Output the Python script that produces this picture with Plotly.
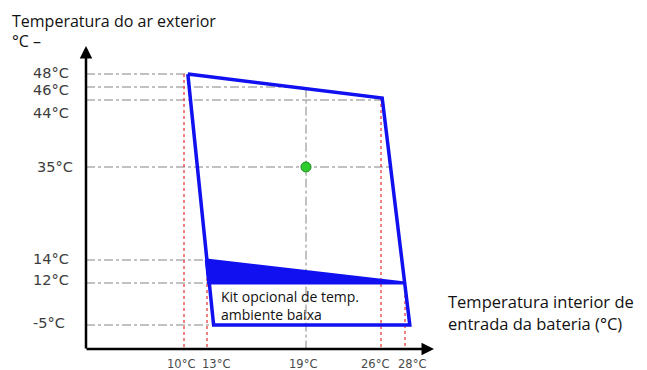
import numpy as np
import plotly.graph_objects as go

# ---- data (temperatures, °C) ----
x_ticks = [10, 13, 19, 26, 28]
x_tick_labels = ["10°C", "13°C", "19°C", "26°C", "28°C"]
y_ticks = [48, 46, 44, 35, 14, 12, -5]
y_tick_labels = ["48°C", "46°C", "44°C", "35°C", "14°C", "12°C", "-5°C"]

# operating envelope outline (indoor, outdoor)
env_x = [10.5, 26.1, 28.4, 13.4, 10.5]
env_y = [48, 44.3, -5, -5, 48]
# low-ambient kit filled band
kit_x = [12.9, 28.0, 13.1, 12.9]
kit_y = [14, 12, 12, 14]
# nominal point
nom_x = [19]
nom_y = [35]

# ---- schematic (non-linear) axis scale: tick -> axis position ----
X_POS = [184, 207, 306, 381, 405]
Y_POS = [74, 87, 100, 167, 260, 283, 325]


def sx(v):
    v = np.atleast_1d(np.asarray(v, float))
    out = np.interp(v, x_ticks, X_POS)
    lo, hi = v < x_ticks[0], v > x_ticks[-1]
    s_lo = (X_POS[1] - X_POS[0]) / (x_ticks[1] - x_ticks[0])
    s_hi = (X_POS[-1] - X_POS[-2]) / (x_ticks[-1] - x_ticks[-2])
    out[lo] = X_POS[0] + (v[lo] - x_ticks[0]) * s_lo
    out[hi] = X_POS[-1] + (v[hi] - x_ticks[-1]) * s_hi
    return out


yt_sorted = y_ticks[::-1]
yp_sorted = Y_POS[::-1]


def sy(v):
    v = np.atleast_1d(np.asarray(v, float))
    return np.interp(v, yt_sorted, yp_sorted)


AX_X = 86   # y-axis line position
AX_Y = 349  # x-axis line position

ex, ey = sx(env_x), sy(env_y)


def edge_x_at(py, i0, i1):
    return ex[i0] + (ex[i1] - ex[i0]) * (py - ey[i0]) / (ey[i1] - ey[i0])


def edge_y_at(px, i0, i1):
    return ey[i0] + (ey[i1] - ey[i0]) * (px - ex[i0]) / (ex[i1] - ex[i0])


fig = go.Figure()
GRAY = "rgba(110,110,110,0.85)"
RED = "rgba(235,40,40,0.9)"

h_end = {
    48: ex[0],
    46: edge_x_at(sy(46)[0], 0, 1),
    44: ex[1],
    35: edge_x_at(sy(35)[0], 1, 2),
    14: edge_x_at(sy(14)[0], 3, 0),
    12: edge_x_at(sy(12)[0], 3, 0),
    -5: ex[3],
}
for t in y_ticks:
    py = sy(t)[0]
    fig.add_trace(go.Scatter(x=[AX_X, h_end[t]], y=[py, py], mode="lines",
                             line=dict(color=GRAY, width=1, dash="dashdot"),
                             hoverinfo="skip", showlegend=False))

v_start = {
    10: sy(48)[0],
    13: sy(14)[0],
    19: edge_y_at(sx(19)[0], 0, 1),
    26: ey[1],
    28: sy(12)[0],
}
for t in x_ticks:
    px = sx(t)[0]
    if t == 19:
        ln = dict(color=GRAY, width=1, dash="dashdot")
    else:
        ln = dict(color=RED, width=1.3, dash="dot")
    fig.add_trace(go.Scatter(x=[px, px], y=[v_start[t], AX_Y], mode="lines",
                             line=ln, hoverinfo="skip", showlegend=False))

BLUE = "#1010f0"
fig.add_trace(go.Scatter(x=sx(kit_x), y=sy(kit_y), mode="lines", fill="toself",
                         fillcolor=BLUE, line=dict(color=BLUE, width=3),
                         hoverinfo="skip", showlegend=False))
fig.add_trace(go.Scatter(x=ex, y=ey, mode="lines",
                         line=dict(color=BLUE, width=3.5),
                         hoverinfo="skip", showlegend=False))
fig.add_trace(go.Scatter(x=sx(nom_x), y=sy(nom_y), mode="markers",
                         marker=dict(color="#2ecc2e", size=10,
                                     line=dict(color="#1a8a1a", width=1)),
                         hoverinfo="skip", showlegend=False))

fig.add_annotation(x=AX_X, y=46, ax=AX_X, ay=AX_Y + 1, xref="x", yref="y",
                   axref="x", ayref="y", showarrow=True, arrowhead=2,
                   arrowsize=1, arrowwidth=2.5, arrowcolor="black", text="")
fig.add_annotation(x=434, y=AX_Y, ax=AX_X - 1, ay=AX_Y, xref="x", yref="y",
                   axref="x", ayref="y", showarrow=True, arrowhead=2,
                   arrowsize=1, arrowwidth=2.5, arrowcolor="black", text="")

TICK_FONT = dict(family="DejaVu Sans", size=14.5, color="#3c3c3c")
y_label_shift = [1, -3, -13, 0, 1, 3, 2]
for t, lab, sh in zip(y_ticks, y_tick_labels, y_label_shift):
    fig.add_annotation(x=31 if t != 35 else 35, y=sy(t)[0], yshift=sh,
                       xref="x", yref="y", text=lab,
                       showarrow=False, xanchor="left", font=TICK_FONT)
x_label_shift = [-3, 9, -3, -6, 7]
for t, lab, sh in zip(x_ticks, x_tick_labels, x_label_shift):
    fig.add_annotation(x=sx(t)[0], y=364, xshift=sh, xref="x", yref="y",
                       text=lab, showarrow=False,
                       font=dict(family="DejaVu Sans", size=11.5, color="#4a4a4a"))

TXT = dict(family="Open Sans", size=16, color="#111111")
fig.add_annotation(x=10, y=21, xref="x", yref="y", xanchor="left",
                   text="Temperatura do ar exterior", showarrow=False, font=TXT)
fig.add_annotation(x=10, y=41, xref="x", yref="y", xanchor="left",
                   text="°C –", showarrow=False, font=TXT)
TXT2 = dict(family="Open Sans", size=16.5, color="#111111")
fig.add_annotation(x=446, y=301, xref="x", yref="y", xanchor="left",
                   text="Temperatura interior de", showarrow=False, font=TXT2)
fig.add_annotation(x=446, y=323, xref="x", yref="y", xanchor="left",
                   text="entrada da bateria (°C)", showarrow=False, font=TXT2)
KIT = dict(family="Open Sans", size=14, color="#111111")
fig.add_annotation(x=219, y=296, xref="x", yref="y", xanchor="left",
                   text="Kit opcional de temp.", showarrow=False, font=KIT)
fig.add_annotation(x=219, y=314, xref="x", yref="y", xanchor="left",
                   text="ambiente baixa", showarrow=False, font=KIT)

# the page body adds an 8px offset; shift ranges so positions land on target
OFF = 8
fig.update_layout(
    width=647, height=370,
    margin=dict(l=0, r=0, t=0, b=0),
    paper_bgcolor="white", plot_bgcolor="white",
    xaxis=dict(range=[OFF, 647 + OFF], visible=False, fixedrange=True),
    yaxis=dict(range=[370 + OFF, OFF], visible=False, fixedrange=True),
)

fig.write_html("out.html")
